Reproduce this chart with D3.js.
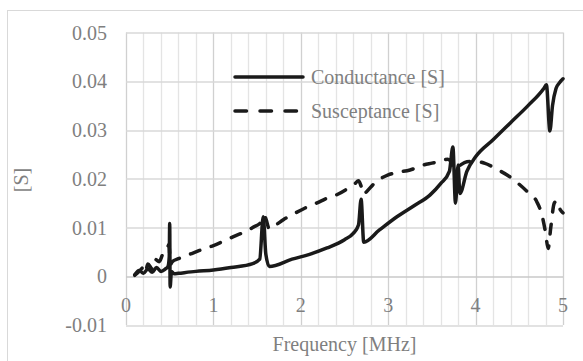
<!DOCTYPE html>
<html>
<head>
<meta charset="utf-8">
<script src="https://cdn.jsdelivr.net/npm/d3@7"></script>
<style>
  body { margin: 0; background: #fff; }
</style>
</head>
<body>
<svg id="chart" width="583" height="361"></svg>
<script>
// conductance (MHz, S)
var condFreq = [ 0.1, 0.15, 0.2, 0.25, 0.3, 0.35, 0.4, 0.45, 0.48, 0.495, 0.5, 0.505, 0.52, 0.55, 0.6, 0.8, 1.0, 1.2, 1.45, 1.53, 1.57, 1.6, 1.64, 1.9, 2.1, 2.3, 2.5, 2.6, 2.66, 2.69, 2.72, 2.9, 3.1, 3.3, 3.48, 3.6, 3.7, 3.74, 3.77, 3.8, 3.82, 3.9, 4.0, 4.2, 4.4, 4.6, 4.78, 4.81, 4.85, 4.88, 4.92, 4.96, 5.0 ],
    condVals = [ 0.0003, 0.0012, 0.0006, 0.0015, 0.0008, 0.0018, 0.001, 0.0015, 0.002, 0.004, 0.0108, -0.0022, 0.001, 0.0005, 0.0006, 0.001, 0.0013, 0.0018, 0.0026, 0.0035, 0.0122, 0.0045, 0.002, 0.0035, 0.0045, 0.0058, 0.0075, 0.0088, 0.0105, 0.0158, 0.007, 0.0095, 0.0122, 0.0145, 0.0167, 0.019, 0.0215, 0.0265, 0.015, 0.0228, 0.017, 0.0215, 0.0245, 0.028, 0.0315, 0.035, 0.0385, 0.0393, 0.0298, 0.035, 0.0385, 0.0397, 0.0405 ];

// susceptance
var suscFreq = [ 0.1, 0.15, 0.2, 0.22, 0.25, 0.3, 0.33, 0.38, 0.42, 0.47, 0.49, 0.51, 0.53, 0.6, 0.7, 0.8, 0.9, 1.0, 1.13, 1.25, 1.36, 1.45, 1.55, 1.58, 1.6, 1.64, 1.72, 1.8, 1.93, 2.05, 2.18, 2.3, 2.41, 2.52, 2.62, 2.66, 2.69, 2.72, 2.75, 2.85, 3.0, 3.1, 3.25, 3.4, 3.5, 3.6, 3.68, 3.72, 3.75, 3.8, 3.9, 4.0, 4.1, 4.26, 4.4, 4.49, 4.6, 4.7, 4.76, 4.8, 4.83, 4.86, 4.9, 4.93, 4.97, 5.0 ],
    suscVals = [ 0.0002, 0.001, 0.0018, 0.0008, 0.0025, 0.0015, 0.0035, 0.003, 0.0045, 0.0055, 0.0065, 0.0025, 0.003, 0.0036, 0.0043, 0.005, 0.0057, 0.0063, 0.0073, 0.0083, 0.0091, 0.01, 0.0112, 0.0125, 0.0118, 0.0097, 0.0106, 0.0116, 0.0129, 0.014, 0.015, 0.016, 0.0167, 0.0178, 0.019, 0.0196, 0.0185, 0.0168, 0.0173, 0.0192, 0.0208, 0.0213, 0.0218, 0.0228, 0.0232, 0.0236, 0.024, 0.0235, 0.022, 0.0225, 0.0235, 0.0236, 0.0232, 0.0218, 0.0203, 0.019, 0.0172, 0.0153, 0.0125, 0.009, 0.0057, 0.01, 0.015, 0.0155, 0.0136, 0.013 ];

var xTicks = [ 0, 1, 2, 3, 4, 5 ],
    yTicks = [ -0.01, 0, 0.01, 0.02, 0.03, 0.04, 0.05 ],
    yTickLabels = [ '-0.01', '0', '0.01', '0.02', '0.03', '0.04', '0.05' ],
    seriesNames = [ 'Conductance [S]', 'Susceptance [S]' ];

var FONT = '"Times New Roman", Times, "Liberation Serif", "DejaVu Serif", serif',
    GREY = '#7f7f7f';

var svg = d3.select( '#chart' ),
    margin = { top: 32.5, right: 20, bottom: 36, left: 126 },
    width = 563 - margin.left,
    height = 325 - margin.top;

// little helper so every label gets the same font
function label( sel ) {
    return sel.style( 'font-family', FONT )
        .style( 'font-size', '20px' )
        .style( 'fill', GREY );
}

// outer frame
svg.append( 'rect' )
    .attr( 'x', 7.5 ).attr( 'y', 10.5 )
    .attr( 'width', 600 ).attr( 'height', 400 )
    .attr( 'fill', 'none' ).attr( 'stroke', '#d9d9d9' );

var g = svg.append( 'g' ).attr( 'transform', 'translate(' + margin.left + ',' + margin.top + ')' );

var x = d3.scaleLinear().domain( [ 0, 5 ] ).range( [ 0, width ] ),
    y = d3.scaleLinear().domain( [ -0.01, 0.05 ] ).range( [ height, 0 ] );

// vertical gridlines every 0.2 MHz
g.selectAll( '.vgrid' )
    .data( x.ticks( 25 ) )
    .enter().append( 'line' )
    .attr( 'x1', function( d ) { return Math.round( x( d ) ) + 0.5; } )
    .attr( 'x2', function( d ) { return Math.round( x( d ) ) + 0.5; } )
    .attr( 'y1', 0 ).attr( 'y2', height )
    .attr( 'stroke', function( d ) { return Math.abs( d - Math.round( d ) ) < 1e-6 ? '#d0d0d0' : '#e4e4e4'; } )
    .attr( 'stroke-width', 1.3 );

// horizontal gridlines
g.selectAll( '.hgrid' )
    .data( yTicks )
    .enter().append( 'line' )
    .attr( 'x1', 0 ).attr( 'x2', width )
    .attr( 'y1', function( d ) { return Math.round( y( d ) ) + 0.5; } )
    .attr( 'y2', function( d ) { return Math.round( y( d ) ) + 0.5; } )
    .attr( 'stroke', function( d ) { return d === 0 ? '#c8c8c8' : '#d9d9d9'; } )
    .attr( 'stroke-width', 1.3 );

// y tick labels
g.selectAll( '.ylab' )
    .data( yTicks )
    .enter().append( 'text' )
    .attr( 'x', -19 )
    .attr( 'y', function( d ) { return y( d ); } )
    .attr( 'dy', '0.35em' )
    .attr( 'text-anchor', 'end' )
    .call( label )
    .text( function( d, i ) { return yTickLabels[ i ]; } );

// x tick labels, next to the zero line
g.selectAll( '.xlab' )
    .data( xTicks )
    .enter().append( 'text' )
    .attr( 'x', function( d ) { return x( d ); } )
    .attr( 'y', y( 0 ) + 36 )
    .attr( 'text-anchor', 'middle' )
    .call( label )
    .text( function( d ) { return d; } );

// axis titles
svg.append( 'text' )
    .attr( 'x', margin.left + width / 2 )
    .attr( 'y', 351 )
    .attr( 'text-anchor', 'middle' )
    .call( label )
    .text( 'Frequency [MHz]' );

svg.append( 'text' )
    .attr( 'transform', 'translate(28,180) rotate(-90)' )
    .attr( 'text-anchor', 'middle' )
    .call( label )
    .text( '[S]' );

var line = d3.line()
    .curve( d3.curveMonotoneX )
    .x( function( d ) { return x( d[ 0 ] ); } )
    .y( function( d ) { return y( d[ 1 ] ); } );

var series = [
    { pts: d3.zip( condFreq, condVals ), dash: null },
    { pts: d3.zip( suscFreq, suscVals ), dash: '10,12' }
];

series.forEach( function( s ) {
    g.append( 'path' )
        .attr( 'd', line( s.pts ) )
        .attr( 'fill', 'none' )
        .attr( 'stroke', '#1a1a1a' )
        .attr( 'stroke-width', 3.5 )
        .attr( 'stroke-linejoin', 'round' )
        .attr( 'stroke-linecap', 'round' )
        .attr( 'stroke-dasharray', s.dash );
} );

// legend
var legend = svg.append( 'g' ).attr( 'transform', 'translate(233,77)' );
seriesNames.forEach( function( name, i ) {
    legend.append( 'line' )
        .attr( 'x1', 2 ).attr( 'x2', 70 )
        .attr( 'y1', i * 34 ).attr( 'y2', i * 34 )
        .attr( 'stroke', '#1a1a1a' )
        .attr( 'stroke-width', 3.5 )
        .attr( 'stroke-linecap', 'round' )
        .attr( 'stroke-dasharray', i ? '11.5,13.5' : null );
    legend.append( 'text' )
        .attr( 'x', 78 )
        .attr( 'y', i * 34 )
        .attr( 'dy', '0.35em' )
        .call( label )
        .text( name );
} );
</script>
</body>
</html>
